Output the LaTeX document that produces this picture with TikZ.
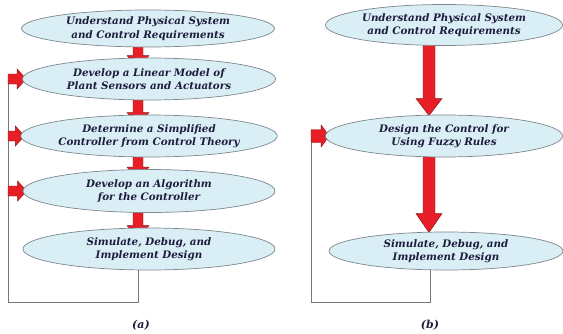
\documentclass[tikz,border=0pt]{standalone}
\usepackage{fontspec}
\setmainfont{DejaVu Serif}
\usetikzlibrary{shapes.geometric,calc}

\definecolor{stepfill}{RGB}{218,238,245}
\definecolor{stepedge}{RGB}{125,135,140}
\definecolor{stepink}{RGB}{28,28,60}
\definecolor{arrowfill}{RGB}{232,30,38}
\definecolor{arrowedge}{RGB}{130,25,25}
\definecolor{loopline}{RGB}{120,120,120}

\pgfdeclarelayer{behind}
\pgfsetlayers{behind,main}

\tikzset{
  stepbox/.style={ellipse, draw=stepedge, line width=0.7pt, fill=stepfill,
    inner sep=0pt, align=center, text=stepink,
    font=\fontsize{10.3}{13.5}\selectfont\bfseries\itshape},
  blockarrow/.style={fill=arrowfill, draw=arrowedge, line width=0.4pt, line join=miter},
  loopline/.style={draw=loopline, line width=0.8pt},
  caption/.style={text=stepink, font=\fontsize{11}{13}\selectfont\bfseries\itshape}
}

% downward block arrow: #1 start, #2 tip, #3 shaft half width, #4 head half width, #5 head length
\newcommand\downblock[5]{%
  \filldraw[blockarrow] let \p1=#1, \p2=#2 in
    (\x1-#3,\y1) -- (\x1-#3,\y2+#5) -- (\x1-#4,\y2+#5) -- (\x1,\y2)
    -- (\x1+#4,\y2+#5) -- (\x1+#3,\y2+#5) -- (\x1+#3,\y1) -- cycle;}
% rightward block arrow: #1 start, #2 tip, #3 shaft half height, #4 head half height, #5 head length
\newcommand\rightblock[5]{%
  \filldraw[blockarrow] let \p1=#1, \p2=#2 in
    (\x1,\y1-#3) -- (\x2-#5,\y1-#3) -- (\x2-#5,\y1-#4) -- (\x2,\y1)
    -- (\x2-#5,\y1+#4) -- (\x2-#5,\y1+#3) -- (\x1,\y1+#3) -- cycle;}

\begin{document}
\begin{tikzpicture}[x=1pt,y=1pt]
\useasboundingbox (0,0) rectangle (563,333);

% axes of the arrows and loops
\coordinate (axL) at (138,0);
\coordinate (axR) at (429,0);
\coordinate (loopL) at (8,31);
\coordinate (loopR) at (311,31);

% ---------- (a) ----------
\node[stepbox, minimum width=253, minimum height=37] (L1) at (148,304.5)
  {Understand Physical System\\and Control Requirements};
\node[stepbox, minimum width=253, minimum height=42] (L2) at (149,254)
  {Develop a Linear Model of\\Plant Sensors and Actuators};
\node[stepbox, minimum width=253, minimum height=42] (L3) at (149,197)
  {Determine a Simplified\\Controller from Control Theory};
\node[stepbox, minimum width=252, minimum height=43] (L4) at (149,142)
  {Develop an Algorithm\\for the Controller};
\node[stepbox, minimum width=252, minimum height=42] (L5) at (149,84)
  {Simulate, Debug, and\\Implement Design};

% ---------- (b) ----------
\node[stepbox, minimum width=237, minimum height=41] (R1) at (444,308)
  {Understand Physical System\\and Control Requirements};
\node[stepbox, minimum width=237, minimum height=42] (R2) at (444,197)
  {Design the Control for\\Using Fuzzy Rules};
\node[stepbox, minimum width=234, minimum height=38] (R3) at (446,82)
  {Simulate, Debug, and\\Implement Design};

\begin{pgfonlayer}{behind}
  % feedback loops
  \draw[loopline] (L5.south -| axL) |- (loopL) -- (loopL |- L2.west);
  \draw[loopline] ($(R3.south -| axR)+(1,0)$) |- (loopR) -- (loopR |- R2.west);

  % short arrows between the steps of (a), tips hidden by the next step
  \downblock{($(L1.south -| axL)+(0,4)$)}{($(L2.north -| axL)+(0,-10)$)}{5pt}{11pt}{12pt}
  \downblock{($(L2.south -| axL)+(0,4)$)}{($(L3.north -| axL)+(0,-10)$)}{5pt}{11pt}{12pt}
  \downblock{($(L3.south -| axL)+(0,4)$)}{($(L4.north -| axL)+(0,-10)$)}{5pt}{11pt}{12pt}
  \downblock{($(L4.south -| axL)+(0,4)$)}{($(L5.north -| axL)+(0,-10)$)}{5pt}{11pt}{12pt}

  % side arrows of the loop in (a)
  \rightblock{(loopL |- L2.west)}{($(L2.west)+(4,0)$)}{5pt}{10pt}{9pt}
  \rightblock{(loopL |- L3.west)}{($(L3.west)+(4,0)$)}{5pt}{10pt}{9pt}
  \rightblock{(loopL |- L4.west)}{($(L4.west)+(4,0)$)}{5pt}{10pt}{9pt}

  % side arrow of the loop in (b)
  \rightblock{(loopR |- R2.west)}{($(R2.west)+(4,0)$)}{6.5pt}{11pt}{8pt}

  % long arrows of (b)
  \downblock{($(R1.south -| axR)+(0,3)$)}{($(R2.north -| axR)+(0,-1)$)}{6pt}{13pt}{17pt}
  \downblock{($(R2.south -| axR)+(0,3)$)}{($(R3.north -| axR)+(0,-1)$)}{6pt}{13pt}{19pt}
\end{pgfonlayer}

% captions
\node[caption] (capA) at (141,8) {(a)};
\node[caption] (capB) at (430,8) {(b)};
\end{tikzpicture}
\end{document}
